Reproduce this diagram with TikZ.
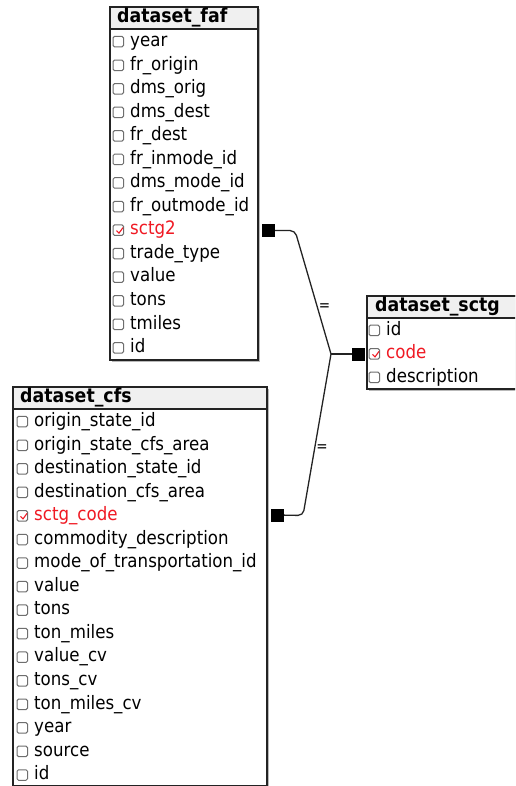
\documentclass[tikz,border=0pt]{standalone}
\usepackage{fontspec}
\setmainfont{DejaVu Sans}[FakeStretch=0.9]
\usetikzlibrary{shapes}
\usetikzlibrary{shadows}
\definecolor{framegray}{RGB}{35,35,35}
\definecolor{headgray}{RGB}{240,240,240}
\definecolor{boxgray}{RGB}{110,110,110}
\definecolor{keyred}{RGB}{240,25,35}
\tikzstyle{table} = [rectangle, draw=framegray, line width=1.6pt, fill=white,
    anchor=north west, inner sep=0pt,
    drop shadow={shadow xshift=2pt, shadow yshift=-2pt, fill=gray!55, opacity=1}]
\tikzstyle{head} = [rectangle, draw=framegray, line width=1.6pt, fill=headgray,
    anchor=north west, inner sep=0pt, minimum height=22pt]
\tikzstyle{title} = [anchor=west, inner sep=0pt, font=\bfseries\fontsize{19.3}{22}\selectfont]
\tikzstyle{fieldtext} = [anchor=west, inner sep=0pt, text height=13.5pt, text depth=4pt,
    font=\fontsize{18.5}{21}\selectfont]
\tikzstyle{chkbox} = [rectangle, draw=boxgray, line width=1pt, rounded corners=1.5pt,
    minimum width=10.5pt, minimum height=10.5pt, text height=0pt, text depth=0pt,
    inner sep=0pt, fill=white, font=\fontsize{9}{9}\selectfont]
\tikzstyle{field} = [fieldtext, label={[chkbox, label distance=6pt]left:{}}]
\tikzstyle{keyfield} = [fieldtext, text=keyred,
    label={[chkbox, text=keyred, label distance=6pt]left:{}}]
\tikzstyle{keybox} = [rectangle, fill=black, minimum size=13pt, inner sep=0pt]
\tikzstyle{link} = [draw=framegray, line width=1.3pt]
\tikzstyle{eq} = [anchor=west, inner sep=1pt, font=\fontsize{15}{15}\selectfont]

\begin{document}
\begin{tikzpicture}[x=1pt, y=-1pt, label distance=6pt]
    \useasboundingbox (0,0) rectangle (515,786);
    \clip (0,0) rectangle (515,786);
    % Tables
    \node [table, minimum width=148pt, minimum height=353pt] (faf) at (109,6) {};
    \node [head, minimum width=148pt] (fafhead) at (109,6) {};
    \node [title] (faftitle) at (117,17.5) {dataset\_faf};
    \node [table, minimum width=254pt, minimum height=399pt] (cfs) at (12,386) {};
    \node [head, minimum width=254pt] (cfshead) at (12,386) {};
    \node [title] (cfstitle) at (20,397.5) {dataset\_cfs};
    \node [table, minimum width=170pt, minimum height=93pt] (sctg) at (366,295) {};
    \node [head, minimum width=170pt] (sctghead) at (366,295) {};
    \node [title] (sctgtitle) at (375,306.5) {dataset\_sctg};
    % Fields of dataset_faf
    \node [field] (faf1) at (130,41.7) {year};
    \node [field] (faf2) at (130,65.3) {fr\_origin};
    \node [field] (faf3) at (130,88.8) {dms\_orig};
    \node [field] (faf4) at (130,112.4) {dms\_dest};
    \node [field] (faf5) at (130,135.9) {fr\_dest};
    \node [field] (faf6) at (130,159.5) {fr\_inmode\_id};
    \node [field] (faf7) at (130,183.0) {dms\_mode\_id};
    \node [field] (faf8) at (130,206.6) {fr\_outmode\_id};
    \node [keyfield] (faf9) at (130,230.1) {sctg2};
    \node [field] (faf10) at (130,253.7) {trade\_type};
    \node [field] (faf11) at (130,277.2) {value};
    \node [field] (faf12) at (130,300.8) {tons};
    \node [field] (faf13) at (130,324.3) {tmiles};
    \node [field] (faf14) at (130,347.9) {id};
    % Fields of dataset_cfs
    \node [field] (cfs1) at (34,421.7) {origin\_state\_id};
    \node [field] (cfs2) at (34,445.3) {origin\_state\_cfs\_area};
    \node [field] (cfs3) at (34,468.8) {destination\_state\_id};
    \node [field] (cfs4) at (34,492.4) {destination\_cfs\_area};
    \node [keyfield] (cfs5) at (34,515.9) {sctg\_code};
    \node [field] (cfs6) at (34,539.5) {commodity\_description};
    \node [field] (cfs7) at (34,563.0) {mode\_of\_transportation\_id};
    \node [field] (cfs8) at (34,586.6) {value};
    \node [field] (cfs9) at (34,610.1) {tons};
    \node [field] (cfs10) at (34,633.7) {ton\_miles};
    \node [field] (cfs11) at (34,657.2) {value\_cv};
    \node [field] (cfs12) at (34,680.8) {tons\_cv};
    \node [field] (cfs13) at (34,704.3) {ton\_miles\_cv};
    \node [field] (cfs14) at (34,727.9) {year};
    \node [field] (cfs15) at (34,751.4) {source};
    \node [field] (cfs16) at (34,775.0) {id};
    % Fields of dataset_sctg
    \node [field] (sctg1) at (386,330.3) {id};
    \node [keyfield] (sctg2) at (386,353.9) {code};
    \node [field] (sctg3) at (386,377.4) {description};
    % check marks in the key boxes
    \draw [keyred, line width=1.1pt] ([xshift=-13.5pt,yshift=-0.5pt]faf9.west) -- ++(2.5,2.5) -- ++(4,-5.5);
    \draw [keyred, line width=1.1pt] ([xshift=-13.5pt,yshift=-0.5pt]cfs5.west) -- ++(2.5,2.5) -- ++(4,-5.5);
    \draw [keyred, line width=1.1pt] ([xshift=-13.5pt,yshift=-0.5pt]sctg2.west) -- ++(2.5,2.5) -- ++(4,-5.5);
    % Relationship
    \node [keybox] (fafkey) at (268.5,230.5) {};
    \node [keybox] (cfskey) at (277.5,515) {};
    \node [keybox] (sctgkey) at (358.5,354) {};
    \coordinate (hub) at (331,354);
    \coordinate (fafbend) at (295,230.5);
    \coordinate (cfsbend) at (303,515.5);
    \draw [link, rounded corners=5pt] (fafkey) -- (fafbend) -- node [eq, pos=0.62] {=} (hub);
    \draw [link, rounded corners=5pt] (cfskey) -- (cfsbend) -- node [eq, pos=0.42] {=} (hub);
    \draw [link] (hub) -- (sctgkey);
\end{tikzpicture}
\end{document}
